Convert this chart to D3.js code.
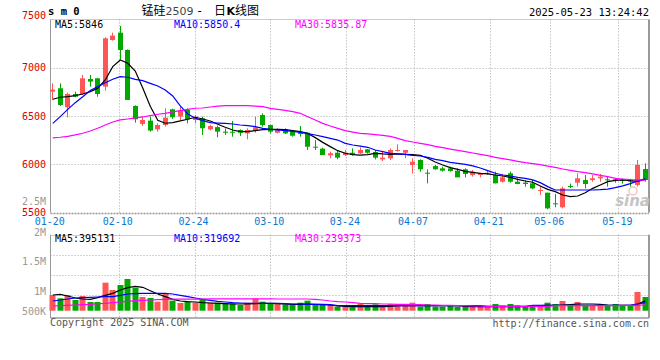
<!DOCTYPE html>
<html>
<head>
<meta charset="utf-8">
<script src="https://cdn.jsdelivr.net/npm/d3@7"></script>
<style>
  body { margin: 0; background: #fff; }
  text { font-family: "DejaVu Sans Mono", monospace; font-size: 10px; }
</style>
</head>
<body>
<div class="diagram"></div>
<script>
// daily bars, 2025-01-20 .. 2025-05-23
const dates = ["01-20","01-21","01-22","01-23","01-24","01-27",
  "02-05","02-06","02-07","02-10","02-11","02-12","02-13","02-14","02-17","02-18","02-19","02-20","02-21",
  "02-24","02-25","02-26","02-27","02-28",
  "03-03","03-04","03-05","03-06","03-07","03-10","03-11","03-12","03-13","03-14","03-17","03-18","03-19","03-20","03-21",
  "03-24","03-25","03-26","03-27","03-28","03-31",
  "04-01","04-02","04-03","04-07","04-08","04-09","04-10","04-11","04-14","04-15","04-16","04-17","04-18",
  "04-21","04-22","04-23","04-24","04-25","04-28","04-29","04-30",
  "05-06","05-07","05-08","05-09","05-12","05-13","05-14","05-15","05-16","05-19","05-20","05-21","05-22","05-23"];

const open = [6752,6787,6590,6728,6728,6883,6890,6804,7287,7363,
  7184,6604,6418,6452,6362,6407,6569,6494,6563,6459,
  6476,6362,6385,6338,6338,6355,6320,6348,6510,6407,
  6327,6362,6338,6327,6327,6182,6162,6093,6120,6096,
  6120,6114,6155,6127,6051,6062,6145,6120,5993,6045,
  5913,5982,5958,5958,5934,5948,5889,5889,5900,5889,
  5820,5907,5820,5810,5803,5727,5706,5596,5555,5775,
  5810,5837,5837,5855,5844,5844,5837,5837,5786,5951];
const high = [6838,6838,6742,6752,6925,6925,6895,7315,7363,7432,
  7190,6610,6494,6494,6424,6580,6575,6597,6580,6511,
  6494,6410,6400,6372,6448,6362,6372,6493,6527,6410,
  6372,6372,6355,6396,6330,6251,6172,6131,6148,6148,
  6165,6176,6158,6148,6141,6165,6207,6148,6062,6051,
  5948,5993,5975,5975,5958,5958,5941,5913,5941,5924,
  5900,5924,5855,5837,5837,5769,5706,5693,5769,5800,
  5907,5889,5889,5900,5872,5860,5850,5850,6045,6010];
const low = [6666,6604,6487,6694,6718,6804,6700,6763,7280,7087,
  6666,6431,6397,6338,6338,6390,6470,6459,6424,6424,
  6303,6350,6280,6303,6286,6293,6258,6327,6389,6320,
  6320,6314,6286,6286,6148,6148,6096,6062,6051,6086,
  6090,6107,6110,6051,6034,6044,6131,6062,5907,5924,
  5803,5945,5925,5925,5865,5865,5872,5865,5889,5803,
  5810,5810,5793,5769,5741,5682,5534,5555,5544,5755,
  5769,5751,5820,5820,5769,5810,5800,5769,5769,5820];
const close = [6773,6614,6728,6700,6890,6856,6728,7304,7332,7184,
  6666,6466,6459,6349,6407,6483,6487,6556,6466,6494,
  6373,6396,6338,6327,6327,6327,6355,6383,6407,6338,
  6355,6320,6296,6314,6182,6175,6096,6114,6069,6120,
  6096,6148,6120,6069,6069,6148,6148,6148,6027,5948,
  5907,5948,5934,5931,5865,5900,5924,5907,5913,5803,
  5865,5820,5796,5796,5751,5734,5544,5589,5751,5765,
  5855,5796,5855,5872,5837,5831,5827,5820,5993,5837];

const ma5 = [6673,6694,6700,6711,6728,6752,6787,6873,7011,7080,
  7046,6965,6790,6600,6455,6425,6431,6449,6466,6487,
  6469,6448,6414,6383,6355,6338,6338,6348,6358,6362,
  6362,6358,6348,6338,6320,6276,6227,6183,6141,6114,
  6100,6096,6100,6114,6107,6103,6107,6103,6100,6093,
  6062,6024,5993,5965,5948,5927,5917,5907,5900,5889,
  5879,5865,5844,5827,5814,5776,5741,5717,5682,5665,
  5672,5706,5751,5786,5820,5834,5838,5831,5824,5846];
const ma10 = [6424,6494,6569,6638,6700,6763,6804,6845,6880,6908,
  6901,6880,6866,6838,6811,6770,6707,6604,6521,6476,
  6452,6431,6427,6424,6417,6407,6400,6390,6372,6362,
  6355,6348,6341,6331,6317,6303,6286,6269,6251,6217,
  6200,6189,6176,6148,6131,6114,6107,6103,6093,6086,
  6072,6051,6038,6020,6010,6000,5983,5962,5934,5907,
  5889,5879,5865,5855,5838,5810,5769,5734,5734,5734,
  5734,5734,5734,5738,5744,5758,5776,5800,5828,5850];
const ma30 = [6273,6280,6290,6304,6321,6345,6373,6407,6438,6459,
  6469,6480,6490,6504,6518,6528,6542,6556,6569,6580,
  6583,6593,6603,6607,6607,6607,6607,6603,6597,6579,
  6569,6559,6545,6528,6493,6458,6424,6396,6372,6348,
  6334,6320,6314,6307,6300,6289,6269,6245,6231,6217,
  6203,6186,6172,6158,6145,6131,6117,6103,6089,6072,
  6058,6045,6031,6017,6007,5996,5982,5969,5951,5938,
  5924,5914,5900,5886,5872,5855,5848,5842,5838,5836];

// volume, thousands
const volume = [628,495,628,428,588,348,348,1121,828,1028,
  1268,921,548,508,361,695,401,308,361,321,
  481,321,321,295,295,228,321,481,361,295,
  295,255,255,321,401,255,255,228,161,161,
  161,268,161,255,215,268,268,215,321,161,
  268,161,161,215,161,215,228,161,161,268,
  215,268,215,161,215,215,321,268,388,268,
  348,215,215,215,215,268,215,215,748,548];
const volMa5 = [628,655,588,508,468,455,521,615,695,828,
  921,975,935,801,668,561,455,388,361,348,
  321,308,295,281,268,268,268,281,295,295,
  281,268,255,255,268,255,241,228,188,175,
  161,161,161,161,161,175,201,201,201,201,
  201,201,201,201,201,175,161,161,161,161,
  161,161,161,161,188,201,215,215,228,241,
  268,268,268,255,228,215,215,215,268,395];
const volMa10 = [388,428,468,508,521,535,548,561,561,615,
  668,681,695,695,695,695,668,615,561,508,
  455,415,375,348,321,308,295,295,295,295,
  295,281,268,268,255,255,255,241,201,201,
  201,201,201,201,201,201,201,201,201,201,
  201,201,201,201,201,201,201,201,175,175,
  175,175,175,175,215,215,215,215,215,215,
  215,215,215,215,215,215,215,215,268,320];
const volMa30 = [188,201,215,228,241,255,281,295,321,348,
  375,401,415,428,441,455,461,461,461,461,
  461,475,475,475,475,475,475,475,475,475,
  468,468,468,468,468,455,428,388,361,348,
  321,295,281,281,268,268,255,255,241,241,
  228,228,215,215,201,201,188,188,175,175,
  175,175,175,175,175,175,175,201,201,201,
  201,201,201,201,201,201,215,215,215,239];

const priceTicks = [7500, 7000, 6500, 6000, 5500];
const volTicks = [2500, 2000, 1500, 1000, 500];
const volTickLabels = ["2.5M", "2M", "1.5M", "1M", "500K"];
const dateTicks = ["01-20","02-10","02-24","03-10","03-24","04-07","04-21","05-06","05-19"];

const up = "#ff5555", down = "#00a800", grid = "#a8a8a8";
const pLeft = 50.5, pRight = 649,
      pTop = 19.4, pBottom = 212.6,
      vTop = 234.7, vBottom = 318;

const svg = d3.select(".diagram")
  .append("svg")
  .attr("width", 660)
  .attr("height", 360);

const rows = dates.map((d, i) => ({date: d, o: open[i], h: high[i], l: low[i], c: close[i],
  m5: ma5[i], m10: ma10[i], m30: ma30[i], v: volume[i], v5: volMa5[i], v10: volMa10[i], v30: volMa30[i]}));

const x = d3.scaleBand().domain(dates).range([49, 649]).padding(0);
const xGrid = d3.scalePoint().domain(dates).range([50.7, 648.7]);
const cx = (d) => x(d) + x.bandwidth() / 2;
const y = d3.scaleLinear().domain([5500, 7500]).range([pBottom, pTop]);
const yVol = d3.scaleLinear().domain([0, 1000]).range([310.7, 285.7]);
const yVolLabel = d3.scaleLinear().domain([1000, 2500]).range([291, 201]);

// grid
const dotted = (sel) => sel.attr("stroke", grid).attr("stroke-dasharray", "1,2").attr("fill", "none");
svg.selectAll(".vgrid")
  .data(dateTicks.slice(1))
  .enter()
  .append("path")
  .attr("d", (d) => {
    const gx = Math.round(xGrid(d)) + 0.5;
    return "M" + gx + "," + pTop + "V" + pBottom + "M" + gx + "," + vTop + "V" + vBottom;
  })
  .call(dotted);
svg.selectAll(".hgrid")
  .data(priceTicks.slice(1, -1))
  .enter()
  .append("line")
  .attr("x1", pLeft).attr("x2", pRight)
  .attr("y1", (d) => Math.round(y(d)) + 0.5)
  .attr("y2", (d) => Math.round(y(d)) + 0.5)
  .call(dotted);
svg.selectAll(".vhgrid")
  .data([1, 2, 3])
  .enter()
  .append("line")
  .attr("x1", pLeft).attr("x2", pRight)
  .attr("y1", (k) => Math.round(vTop + k * (314.6 - vTop) / 4) + 0.5)
  .attr("y2", (k) => Math.round(vTop + k * (314.6 - vTop) / 4) + 0.5)
  .call(dotted);

// frames
[[pTop, pBottom], [vTop, vBottom]].forEach(([t, b]) => {
  svg.append("line").attr("x1", pLeft).attr("x2", pRight).attr("y1", Math.round(t) + 0.5).attr("y2", Math.round(t) + 0.5)
    .attr("stroke", "#999").attr("stroke-dasharray", "1,1");
  svg.append("line").attr("x1", pLeft).attr("x2", pLeft).attr("y1", t).attr("y2", b).attr("stroke", "#999");
  svg.append("line").attr("x1", pRight).attr("x2", pRight).attr("y1", t).attr("y2", b).attr("stroke", "#999").attr("stroke-width", 2);
});
svg.append("line").attr("x1", pLeft).attr("x2", pRight).attr("y1", Math.round(pBottom) + 0.5).attr("y2", Math.round(pBottom) + 0.5)
  .attr("stroke", "#999").attr("stroke-width", 1.5).attr("stroke-dasharray", "2,1");
svg.append("line").attr("x1", pLeft).attr("x2", pRight).attr("y1", vBottom).attr("y2", vBottom)
  .attr("stroke", "#999").attr("stroke-width", 1.5);

// sina mark
svg.append("circle").attr("cx", 633).attr("cy", 191).attr("r", 4)
  .attr("fill", "none").attr("stroke", "#f0c4c4").attr("stroke-width", 1.5);
svg.append("text").attr("x", 650).attr("y", 206).attr("text-anchor", "end")
  .style("font-family", "'DejaVu Sans', sans-serif").style("font-size", "15px")
  .style("font-style", "italic").style("font-weight", "bold")
  .attr("fill", "#c4c4c4").text("sina");

// candles
const candle = svg.selectAll(".candle")
  .data(rows)
  .enter()
  .append("g");
candle.append("line")
  .attr("x1", (d) => Math.floor(cx(d.date)) + 0.5)
  .attr("x2", (d) => Math.floor(cx(d.date)) + 0.5)
  .attr("y1", (d) => y(d.h))
  .attr("y2", (d) => y(d.l))
  .attr("stroke", (d) => d.c >= d.o ? up : down);
candle.append("rect")
  .attr("x", (d) => Math.floor(cx(d.date)) - 2)
  .attr("width", 5)
  .attr("y", (d) => y(Math.max(d.o, d.c)))
  .attr("height", (d) => Math.max(1, Math.abs(y(d.o) - y(d.c))))
  .attr("fill", (d) => d.c >= d.o ? up : down);

// volume bars
svg.selectAll(".vol")
  .data(rows)
  .enter()
  .append("rect")
  .attr("x", (d) => Math.floor(cx(d.date)) - 2.5)
  .attr("width", 6)
  .attr("y", (d) => yVol(d.v))
  .attr("height", (d) => yVol(0) - yVol(d.v))
  .attr("fill", (d) => d.c >= d.o ? up : down);

// moving averages
const lines = [["m5", "#000", y], ["m10", "#0000ff", y], ["m30", "#ff00ff", y],
  ["v5", "#000", yVol], ["v10", "#0000ff", yVol], ["v30", "#ff00ff", yVol]];
lines.forEach(([key, color, scale]) => {
  svg.append("path")
    .datum(rows)
    .attr("fill", "none")
    .attr("stroke", color)
    .attr("stroke-width", 1.2)
    .attr("d", d3.line().x((d) => cx(d.date)).y((d) => scale(d[key])));
});

// axis labels
svg.selectAll(".plabel")
  .data(priceTicks)
  .enter()
  .append("text")
  .attr("x", 46).attr("y", (d) => y(d))
  .attr("dy", (d) => d === 7500 ? "0" : "0.35em")
  .attr("text-anchor", "end")
  .attr("fill", "#d80000")
  .text((d) => d);
svg.selectAll(".vlabel")
  .data(volTicks)
  .enter()
  .append("text")
  .attr("x", 46).attr("y", (d) => Math.min(yVolLabel(d), 311))
  .attr("dy", (d) => d === 2000 ? "0.5em" : "0.35em")
  .attr("text-anchor", "end")
  .attr("fill", "#999")
  .text((d, i) => volTickLabels[i]);
svg.selectAll(".dlabel")
  .data(dateTicks)
  .enter()
  .append("text")
  .attr("x", (d) => xGrid(d) - 1).attr("y", 224.6)
  .attr("text-anchor", "middle")
  .attr("fill", "#0a78d2")
  .text((d) => d);

// header texts
const legend = [[55, "#000", "MA5:5846", "MA5:395131"], [174, "#0000ff", "MA10:5850.4", "MA10:319692"],
  [295, "#ff00ff", "MA30:5835.87", "MA30:239373"]];
legend.forEach(([lx, color, a, b]) => {
  svg.append("text").attr("x", lx).attr("y", 27.5).attr("fill", color).text(a);
  svg.append("text").attr("x", lx).attr("y", 242.3).attr("fill", color).text(b);
});

svg.append("text").attr("x", 48).attr("y", 15).style("font-weight", "bold").style("font-size", "10.5px").text("s m 0");
const titleParts = [[141.5, "锰硅", "#000", "'Noto Sans CJK SC', sans-serif", "12px", "normal"],
  [165.5, "2509", "#444", "'DejaVu Sans', sans-serif", "11px", "normal"],
  [196, "-", "#000", "'DejaVu Sans Mono', monospace", "12px", "normal"],
  [214, "日", "#000", "'Noto Sans CJK SC', sans-serif", "12px", "normal"],
  [226.5, "K", "#000", "'DejaVu Sans', sans-serif", "11px", "bold"],
  [235, "线图", "#000", "'Noto Sans CJK SC', sans-serif", "12px", "normal"]];
titleParts.forEach(([tx, t, color, family, size, weight]) => {
  svg.append("text").attr("x", tx).attr("y", 15).attr("fill", color)
    .style("font-family", family).style("font-size", size).style("font-weight", weight).text(t);
});
svg.append("text").attr("x", 649).attr("y", 16).attr("text-anchor", "end").style("font-size", "10.5px").text("2025-05-23 13:24:42");

svg.append("text").attr("x", 50).attr("y", 326.3).attr("fill", "#555").text("Copyright 2025 SINA.COM");
svg.append("text").attr("x", 649).attr("y", 327).attr("text-anchor", "end").attr("fill", "#555").text("http://finance.sina.com.cn");
</script>
</body>
</html>
